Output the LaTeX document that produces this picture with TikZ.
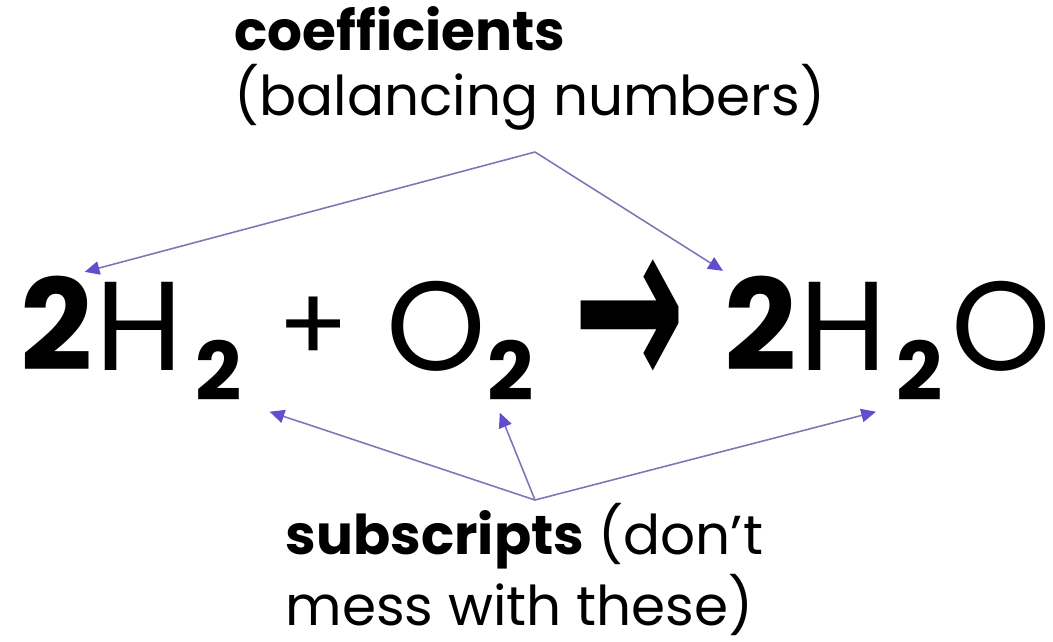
\documentclass[tikz,border=0pt]{standalone}
\usepackage{fontspec}
\setmainfont{Poppins}
\newfontfamily\arrowfont{DejaVu Sans}
\usepackage{tikz}
\usetikzlibrary{arrows.meta,calc,positioning}

\definecolor{linecol}{RGB}{128,118,182}
\definecolor{tipcol}{RGB}{96,78,206}

\begin{document}
\begin{tikzpicture}[x=0.01cm,y=-0.01cm,
            label/.style={inner sep=0pt, align=left, anchor=north west},
            big/.style={inner sep=0pt, anchor=base west, font=\fontsize{36}{40}\selectfont},
            coef/.style={big, font=\fontsize{36}{40}\selectfont\bfseries},
            sub/.style={inner sep=0pt, anchor=base west, font=\fontsize{23}{26}\selectfont\bfseries},
            pointer/.style={draw=linecol, line width=0.45pt, -{Triangle[length=4.2pt,width=3.8pt,color=tipcol]}}]
    \useasboundingbox (0,0) rectangle (1053,641);

    % Labels
    \node[label, font=\fontsize{15.6}{18.5}\selectfont] (coeflabel) at (234,6)
        {\textbf{coefficients}\\(balancing numbers)};
    \node[label, font=\fontsize{15.6}{20}\selectfont] (sublabel) at (285,503)
        {\textbf{subscripts} (don’t\\mess with these)};

    % Equation, baseline at y = 370
    \node[coef] (c1) at (20,370) {2};
    \node[big] (h1) at (95,370) {H};
    \node[sub] (s1) at (195,400) {2};
    \node[inner sep=0pt, font=\fontsize{30}{32}\selectfont] (plus) at (314,330) {+};
    \node[big] (o1) at (386,370) {O};
    \node[sub] (s2) at (487,400) {2};
    \node[inner sep=0pt, font=\fontsize{40}{42}\arrowfont\bfseries] (arr) at (629,326) {\scalebox{0.95}[1.75]{→}};
    \node[coef] (c2) at (724,370) {2};
    \node[big] (h2) at (799,370) {H};
    \node[sub] (s3) at (896,400) {2};
    \node[big] (o2) at (951,370) {O};

    % Forks
    \coordinate (topfork) at ($(coeflabel.north west)+(301,146)$);
    \coordinate (botfork) at ($(sublabel.north west)+(250,-3)$);

    % Arrows to coefficients
    \draw[pointer] (topfork) -- ($(c1.north east)+(-9,-3)$);
    \draw[pointer] (topfork) -- ($(c2.north west)+(-1,-4)$);

    % Arrows to subscripts
    \draw[pointer] (botfork) -- ($(s1.south east)+(27,11)$);
    \draw[pointer] (botfork) -- ($(s2.south)+(-11,12)$);
    \draw[pointer] (botfork) -- ($(s3.south west)+(-20,11)$);
\end{tikzpicture}
\end{document}
